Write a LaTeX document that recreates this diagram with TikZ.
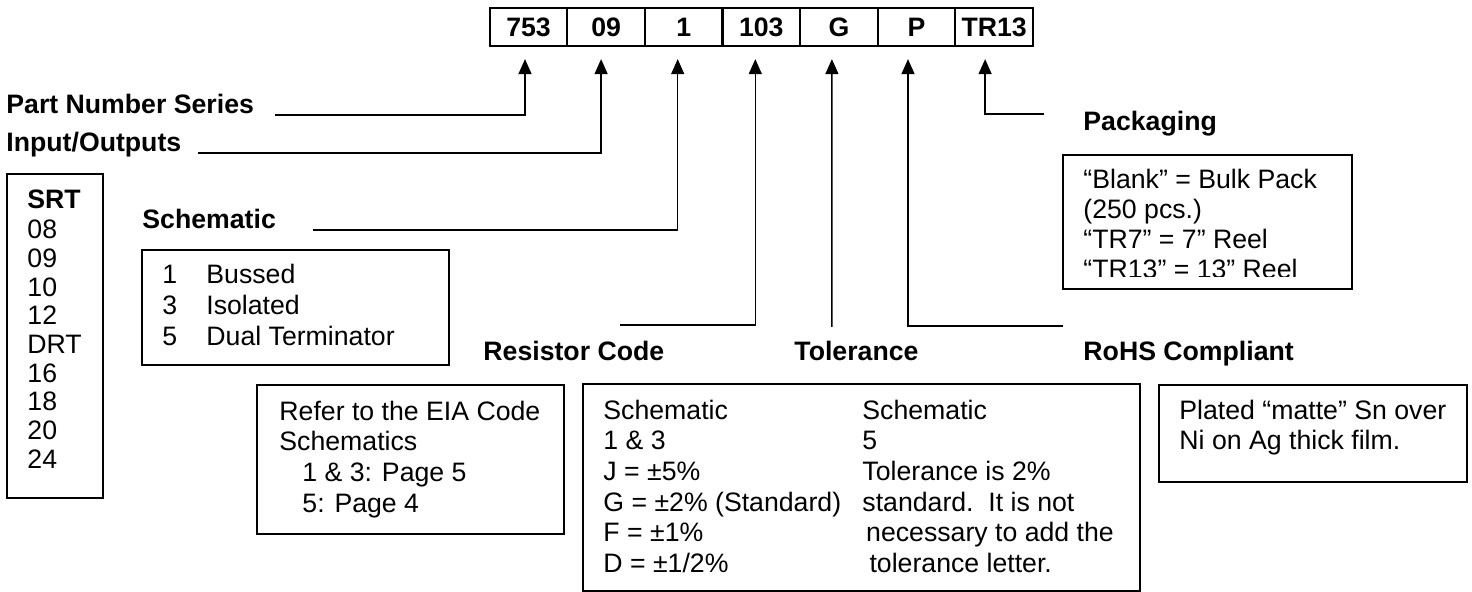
\documentclass[tikz,border=0pt]{standalone}
\usepackage{fontspec}
\setmainfont{Liberation Sans}
\usetikzlibrary{calc, positioning, arrows.meta}
\newcommand\diagfont{\fontsize{12}{13.8}\selectfont}
\tikzset{
 cell/.style = {
    rectangle, draw, line width=1pt,
    minimum width=34.92pt,
    minimum height=17.1pt,
    inner sep=0pt, font=\diagfont\bfseries},
 title/.style = {
    anchor=base west, inner sep=0pt, font=\diagfont\bfseries},
 infobox/.style = {
    rectangle, draw, line width=0.75pt,
    anchor=north west, inner sep=0pt},
 boxtext/.style = {
    anchor=north west, inner sep=0pt, align=left, font=\diagfont},
 line/.style = {
    draw, line width=0.6pt, -{Triangle[width=5.9pt,length=6.8pt]}},
}

\begin{document}
\begin{tikzpicture}[x=0.45pt, y=-0.45pt, node distance=34.92pt]
\useasboundingbox (0,0) rectangle (1472,592);

% Part number cells
\node [cell]                 (c753) at (528.5,27) {753};
\node [cell, right of=c753]  (c09)  {09};
\node [cell, right of=c09]   (c1)   {1};
\node [cell, right of=c1]    (c103) {103};
\node [cell, right of=c103]  (cG)   {G};
\node [cell, right of=cG]    (cP)   {P};
\node [cell, right of=cP]    (cTR)  {TR13};

% Field labels
\node [title] (pns)  at (6,114)    {Part Number Series};
\node [title] (io)   at (6,152)    {Input/Outputs};
\node [title] (sch)  at (142,229)  {Schematic};
\node [title] (rc)   at (483,361)  {Resistor Code};
\node [title] (tol)  at (794,361)  {Tolerance};
\node [title] (rohs) at (1083,361) {RoHS Compliant};
\node [title] (pkg)  at (1083,131) {Packaging};

% Boxes
\node [infobox, minimum width=43.2pt,  minimum height=145.8pt] (srtbox)  at (6,173)    {};
\node [infobox, minimum width=138.15pt, minimum height=51.75pt] (schbox)  at (141,249)  {};
\node [infobox, minimum width=138.15pt, minimum height=67.05pt] (rcbox)   at (256,384)  {};
\node [infobox, minimum width=250.65pt, minimum height=93.15pt] (tolbox)  at (582,383)  {};
\node [infobox, minimum width=138.6pt,  minimum height=43.65pt] (rohsbox) at (1158,384) {};
\node [infobox, minimum width=130.05pt, minimum height=60.3pt]  (pkgbox)  at (1062,154) {};

% Box texts
\node [boxtext, font=\fontsize{12}{12.9}\selectfont] (srttext) at (27,189)
  {{\bfseries SRT}\\[1pt] 08\\ 09\\ 10\\ 12\\ DRT\\ 16\\ 18\\ 20\\ 24};
\node [boxtext, font=\fontsize{12}{13.95}\selectfont] (schtext) at (162,263.5)
  {\makebox[19.8pt][l]{1}Bussed\\ \makebox[19.8pt][l]{3}Isolated\\ \makebox[19.8pt][l]{5}Dual Terminator};
\node [boxtext] (rctext) at (279,400.5)
  {Refer to the EIA Code\\ Schematics\\ \hspace*{10.35pt}1 \& 3: Page 5\\ \hspace*{10.35pt}5: Page 4};
\node [boxtext] (tolleft) at (603,399.5)
  {Schematic\\ 1 \& 3\\ J = ±5\%\\ G = ±2\% (Standard)\\ F = ±1\%\\ D = ±1/2\%};
\node [boxtext] (tolright) at (862,399.5)
  {Schematic\\ 5\\ Tolerance is 2\%\\ standard.\ \ It is not\\ \hspace*{1.7pt}necessary to add the\\ \hspace*{3.2pt}tolerance letter.};
\node [boxtext] (rohstext) at (1179,399.5)
  {Plated “matte” Sn over\\ Ni on Ag thick film.};
\begin{scope}
  \clip (1062,154) rectangle (1351,277);
  \node [boxtext, font=\fontsize{12}{13.5}\selectfont] (pkgtext) at (1083,168.5)
    {“Blank” = Bulk Pack\\ (250 pcs.)\\ “TR7” = 7” Reel\\ “TR13” = 13” Reel};
\end{scope}

% Connectors
\coordinate (pnsend)  at (275,115);
\coordinate (ioend)   at (198,153);
\coordinate (schend)  at (313,230);
\coordinate (rcend)   at (620,325);
\coordinate (tolend)  at (831.9,327);
\coordinate (rohsend) at (1063,326);
\coordinate (pkgend)  at (1044,114);

\draw[line] (pnsend)  -| ($(c753.south)+(-3.5,12)$);
\draw[line] (ioend)   -| ($(c09.south)+(-5,12)$);
\draw[line] (schend)  -| ($(c1.south)+(-6,12)$);
\draw[line] (rcend)   -| ($(c103.south)+(-6,12)$);
\draw[line] (tolend)  -- ($(cG.south)+(-7,12)$);
\draw[line] (rohsend) -| ($(cP.south)+(-8.5,12)$);
\draw[line] (pkgend)  -| ($(cTR.south)+(-9,12)$);
\end{tikzpicture}
\end{document}
